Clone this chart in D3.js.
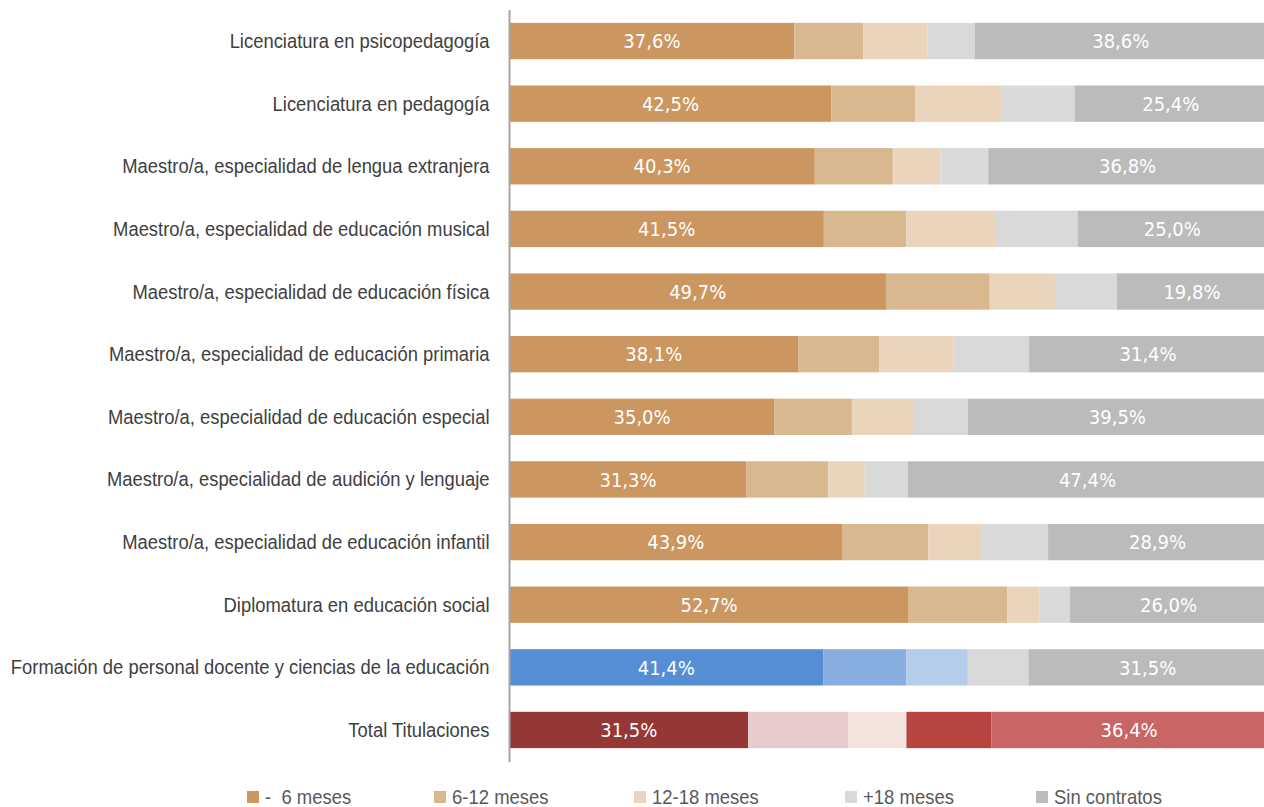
<!DOCTYPE html>
<html>
<head>
<meta charset="utf-8">
<script src="https://cdn.jsdelivr.net/npm/d3@7"></script>
<style>
  body { margin: 0; background: #fff; }
  svg { display: block; }
  .cat text { font-family: "Liberation Sans", Arial, sans-serif; font-size: 19.5px; fill: #404040; }
  .val { font-family: "DejaVu Sans Condensed", "Liberation Sans", sans-serif; font-size: 20px; fill: #fff; }
  .legend text { font-family: "Liberation Sans", Arial, sans-serif; font-size: 20px; fill: #595959; white-space: pre; }
</style>
</head>
<body>
<svg id="chart" width="1264" height="807"></svg>
<script>
// categories, top to bottom
var categories = [
  "Licenciatura en psicopedagogía",
  "Licenciatura en pedagogía",
  "Maestro/a, especialidad de lengua extranjera",
  "Maestro/a, especialidad de educación musical",
  "Maestro/a, especialidad de educación física",
  "Maestro/a, especialidad de educación primaria",
  "Maestro/a, especialidad de educación especial",
  "Maestro/a, especialidad de audición y lenguaje",
  "Maestro/a, especialidad de educación infantil",
  "Diplomatura en educación social",
  "Formación de personal docente y ciencias de la educación",
  "Total Titulaciones"
];
var seriesNames = ["-  6 meses", "6-12 meses", "12-18 meses", "+18 meses", "Sin contratos"];

var menos6   = [37.6, 42.5, 40.3, 41.5, 49.7, 38.1, 35.0, 31.3, 43.9, 52.7, 41.4, 31.5];
var m6a12    = [ 9.1, 11.1, 10.3, 10.9, 13.7, 10.7, 10.2, 10.8, 11.4, 13.0, 11.0, 13.2];
var m12a18   = [ 8.5, 11.3,  6.3, 11.7,  8.6,  9.8,  8.2,  4.8,  7.1,  4.3,  8.1,  7.7];
var mas18    = [ 6.2,  9.7,  6.3, 10.9,  8.2, 10.0,  7.1,  5.7,  8.7,  4.0,  8.0, 11.2];
var sinContr = [38.6, 25.4, 36.8, 25.0, 19.8, 31.4, 39.5, 47.4, 28.9, 26.0, 31.5, 36.4];

// colour sets: default (education rows), area row, total row
var coloursEdu   = ["#cb9660", "#d9b78f", "#ead4bc", "#d9d9d9", "#bbbbbb"];
var coloursArea  = ["#558ed5", "#88aee0", "#b3cdeb", "#d9d9d9", "#bbbbbb"];
var coloursTotal = ["#953735", "#e8cbcc", "#f2e4dc", "#b84442", "#c86565"];

var svg = d3.select("#chart");

var x = d3.scaleLinear().domain([0, 100]).range([509.5, 1267]);
var y = d3.scaleBand()
    .domain(categories)
    .range([9.7, 761.3])
    .paddingInner(0.42)
    .paddingOuter(0.21);

var rows = categories.map(function(c, i) {
    return {cat: c, s0: menos6[i], s1: m6a12[i], s2: m12a18[i], s3: mas18[i], s4: sinContr[i]};
});
var keys = ["s0", "s1", "s2", "s3", "s4"];
var stacked = d3.stack().keys(keys)(rows);

function colourFor(cat, k) {
    if (cat == "Total Titulaciones") return coloursTotal[k];
    if (cat.indexOf("Formación") == 0) return coloursArea[k];
    return coloursEdu[k];
}

var layer = svg.append("g").attr("class", "bars")
    .selectAll("g")
    .data(stacked)
    .enter().append("g");

layer.selectAll("rect")
    .data(function(d) { return d.map(function(p) { return {p: p, k: d.index}; }); })
    .enter().append("rect")
    .attr("x", function(d) { return x(d.p[0]); })
    .attr("y", function(d) { return y(d.p.data.cat); })
    .attr("width", function(d) { return x(d.p[1]) - x(d.p[0]); })
    .attr("height", y.bandwidth())
    .attr("fill", function(d) { return colourFor(d.p.data.cat, d.k); });

// labels only on the first and last segment
layer.filter(function(d) { return d.index == 0 || d.index == 4; })
    .selectAll("text")
    .data(function(d) { return d; })
    .enter().append("text")
    .attr("class", "val")
    .attr("x", function(d) { return (x(d[0]) + x(d[1])) / 2; })
    .attr("y", function(d) { return y(d.data.cat) + y.bandwidth() / 2; })
    .attr("dy", "0.36em")
    .attr("text-anchor", "middle")
    .text(function(d) { return (d[1] - d[0]).toFixed(1).replace(".", ",") + "%"; });

// category axis
var axis = svg.append("g")
    .attr("class", "cat")
    .attr("transform", "translate(509.5,0)")
    .call(d3.axisLeft(y).tickSize(0).tickPadding(20));
axis.select(".domain").remove();

// squeeze labels a bit so the longest one spans like the reference (narrow font)
var longest = 0;
axis.selectAll("text").each(function() { longest = Math.max(longest, this.getComputedTextLength()); });
var k = Math.min(1, 479 / longest);
axis.selectAll("text")
    .attr("dy", "0.36em")
    .attr("x", -20 / k)
    .attr("transform", "scale(" + k + ",1)");

svg.append("line")
    .attr("x1", 509.5).attr("x2", 509.5)
    .attr("y1", 10).attr("y2", 762)
    .attr("stroke", "#a6a6a6")
    .attr("stroke-width", 2);

// legend
var legendX = [247, 434, 634, 845, 1036];
var legend = svg.append("g").attr("class", "legend")
    .selectAll("g")
    .data(seriesNames)
    .enter().append("g")
    .attr("transform", function(d, i) { return "translate(" + legendX[i] + ",791)"; });
legend.append("rect")
    .attr("width", 12).attr("height", 12)
    .attr("fill", function(d, i) { return coloursEdu[i]; });
legend.append("text")
    .attr("transform", "translate(18,6) scale(0.925,1)")
    .attr("dy", "0.36em")
    .text(function(d) { return d; });
</script>
</body>
</html>
